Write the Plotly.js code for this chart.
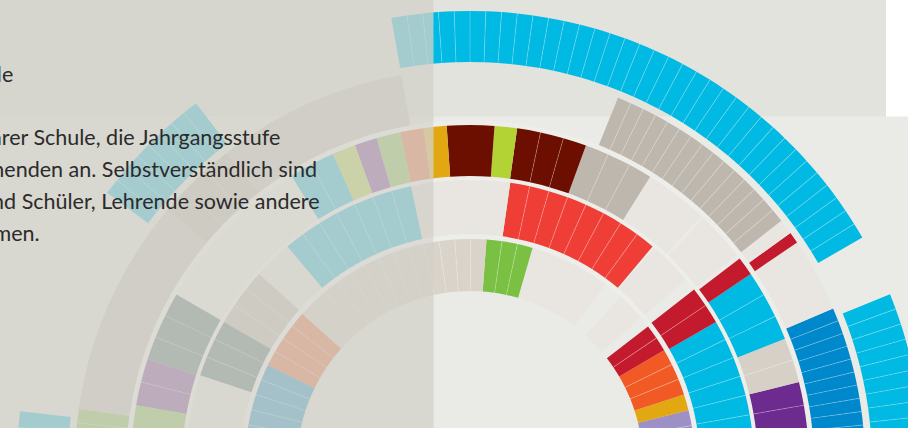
<!DOCTYPE html>
<html><head><meta charset="utf-8">
<script src="https://cdn.plot.ly/plotly-3.0.1.min.js"></script>
<style>
html,body{margin:0;padding:0;width:908px;height:428px;overflow:hidden;background:#eaeae6;}
#chart{position:absolute;left:-30.5px;top:-35.6px;width:1000px;height:1000px;}
</style></head><body><div id="chart"></div>
<script>
// ---- data: segments per ring (angles in degrees, counter-clockwise from east) ----
const ring1Start = [-6, 13.8, 18.0, 30.4, 40.5, 53.0, 73.85, 85.8, 138.2, 154.0];
const ring1End   = [13.8, 18.0, 30.4, 37.7, 48.0, 73.85, 85.8, 138.2, 154.0, 190];
const ring1Units = [5, 1, 3, 2, 1, 1, 3, 13, 4, 9];
const ring1Color = ['lavender','gold','orange','crimson','empty','empty','green','beige','orange','darkblue'];

const ring2Start = [-6, 30, 40.5, 50, 81.85, 102, 138, 150];
const ring2End   = [30, 37.9, 49.5, 81.85, 102, 130, 150, 161.8];
const ring2Units = [9, 2, 1, 8, 1, 7, 3, 3];
const ring2Color = ['cyan','crimson','empty','red','empty','cyan','gray','slate'];

const ring3Start = [-6, 14, 21.7, 34.1, 38, 47, 57.9, 70, 82, 85.85, 93.95, 97.9, 101.9, 106, 109.85, 113.85, 121.8, 150, 162, 170];
const ring3End   = [14, 21.7, 34.1, 37.3, 46.4, 57.9, 70, 82, 85.85, 93.95, 97.9, 101.9, 106, 109.85, 113.85, 121.8, 150, 162, 170, 190];
const ring3Units = [5, 2, 3, 1, 1, 1, 3, 3, 1, 1, 1, 1, 1, 1, 1, 2, 1, 3, 2, 5];
const ring3Color = ['purple','tan','cyan','crimson','empty','empty','gray','darkred','lime','darkred','gold','orange','green','purple','lime','cyan','pale','slate','purple','green'];

const ring4Start = [-6, 23.2, 34.1, 35.8, 38, 100, 128, 140, 172];
const ring4End   = [23.2, 34.1, 35.8, 38, 68, 128, 140, 172, 190];
const ring4Units = [15, 1, 1, 1, 15, 1, 3, 1, 9];
const ring4Color = ['darkblue','empty','crimson','empty','gray','taupe','gray','taupe','green'];

const ring5Start = [-6, 30, 127.2, 173.3];
const ring5End   = [22, 100, 143.2, 190];
const ring5Units = [14, 35, 8, 8];
const ring5Color = ['cyan','cyan','cyan','cyan'];

const textLines = [
  'Schule',
  'Kinder ihrer Schule, die Jahrgangsstufe',
  'den Lernenden an. Selbstverständlich sind',
  'Schülerinnen und Schüler, Lehrende sowie andere',
  'teilnehmen.'
];

// ---- styles ----
const palette = {
  cyan:'#00bae3', darkred:'#6d0f00', lime:'#b3d335', gold:'#e1a812', gray:'#bdb7ad',
  red:'#ef3e36', green:'#7ac143', empty:'#e9e5e0', beige:'#d9d3c9', crimson:'#c31b2d',
  orange:'#f15a24', lavender:'#9c90c6', purple:'#6d2b8f', darkblue:'#0088cc',
  tan:'#d6d0c6', slate:'#456565', taupe:'#c7c2bb', pale:'#f7f6f2'
};
const ringInner = [173, 230, 288, 344, 402];
const ringOuter = [225, 284, 339, 395, 453];
const overlayX = 433, centerX = 469.5;

function ringTraces(idx, starts, ends, units, colors){
  const theta=[], width=[], r=[], base=[], col=[];
  const dTheta=[], dWidth=[], dR=[], dBase=[];
  const rMid = (ringInner[idx]+ringOuter[idx])/2;
  const lineDeg = 0.9/rMid*180/Math.PI;
  for (let i=0;i<starts.length;i++){
    const w=(ends[i]-starts[i])/units[i];
    for (let k=0;k<units[i];k++){
      theta.push(starts[i]+w*(k+0.5)); width.push(w);
      base.push(ringInner[idx]); r.push(ringOuter[idx]-ringInner[idx]);
      col.push(palette[colors[i]]);
      if (k>0){
        dTheta.push(starts[i]+w*k); dWidth.push(lineDeg);
        dBase.push(ringInner[idx]); dR.push(ringOuter[idx]-ringInner[idx]);
      }
    }
  }
  return [
    {type:'barpolar', theta:theta, width:width, r:r, base:base,
     marker:{color:col, line:{width:0}}, hoverinfo:'skip', showlegend:false},
    {type:'barpolar', theta:dTheta, width:dWidth, r:dR, base:dBase,
     marker:{color:'rgba(255,255,255,0.28)', line:{width:0}}, hoverinfo:'skip', showlegend:false}
  ];
}

// light separator bands between rings 1/2, 2/3, 3/4
function separatorTrace(){
  const theta=[], width=[], r=[], base=[], col=[];
  for (let j=0;j<3;j++){
    const b0 = ringOuter[j], b1 = ringInner[j+1];
    const split = Math.acos((overlayX-centerX)/((b0+b1)/2))*180/Math.PI;
    theta.push((split-10)/2); width.push(split+10); base.push(b0); r.push(b1-b0); col.push('#ededE9');
    theta.push((split+190)/2); width.push(190-split); base.push(b0); r.push(b1-b0); col.push('#ffffff');
  }
  return {type:'barpolar', theta:theta, width:width, r:r, base:base,
    marker:{color:col, line:{width:0}}, hoverinfo:'skip', showlegend:false};
}

const data = [separatorTrace()].concat(
  ringTraces(0, ring1Start, ring1End, ring1Units, ring1Color),
  ringTraces(1, ring2Start, ring2End, ring2Units, ring2Color),
  ringTraces(2, ring3Start, ring3End, ring3Units, ring3Color),
  ringTraces(3, ring4Start, ring4End, ring4Units, ring4Color),
  ringTraces(4, ring5Start, ring5End, ring5Units, ring5Color)
);

// page pixel -> paper coords of the 1000x1000 plot div
const OX = 30.5, OY = 35.6, S = 1000;
const px = x => (x + OX)/S;
const py = y => 1 - (y + OY)/S;

const shapes = [
  {type:'rect', xref:'paper', yref:'paper', x0:px(-60), x1:px(885.5), y0:py(-60), y1:py(117), fillcolor:'#e3e3de', line:{width:0}, layer:'below'},
  {type:'rect', xref:'paper', yref:'paper', x0:px(885.5), x1:px(1000), y0:py(-60), y1:py(117), fillcolor:'#ffffff', line:{width:0}, layer:'below'},
  {type:'rect', xref:'paper', yref:'paper', x0:px(-60), x1:px(overlayX), y0:py(-60), y1:py(600), fillcolor:'rgba(210,209,201,0.78)', line:{width:0}, layer:'above'}
];

const textRight = [14, 281, 318, 321, 41];
const textY = [74, 137, 169, 201, 233];
const annotations = textLines.map((t,i)=>({
  xref:'paper', yref:'paper', x:px(textRight[i]), y:py(textY[i]), xanchor:'right', yanchor:'middle',
  text:t, showarrow:false, align:'right',
  font:{family:'Lato, "Open Sans", sans-serif', size:21.5, color:'#2b2b2b'}
}));

const layout = {
  width:1000, height:1000, margin:{l:0,r:0,t:0,b:0},
  paper_bgcolor:'#eaeae6', plot_bgcolor:'rgba(0,0,0,0)',
  showlegend:false,
  polar:{
    domain:{x:[0,1], y:[0,1]}, bgcolor:'rgba(0,0,0,0)', barmode:'overlay',
    radialaxis:{visible:false, range:[0,500]},
    angularaxis:{visible:false, rotation:0, direction:'counterclockwise'}
  },
  shapes:shapes, annotations:annotations
};
Plotly.newPlot('chart', data, layout, {displayModeBar:false, staticPlot:true});
</script></body></html>
